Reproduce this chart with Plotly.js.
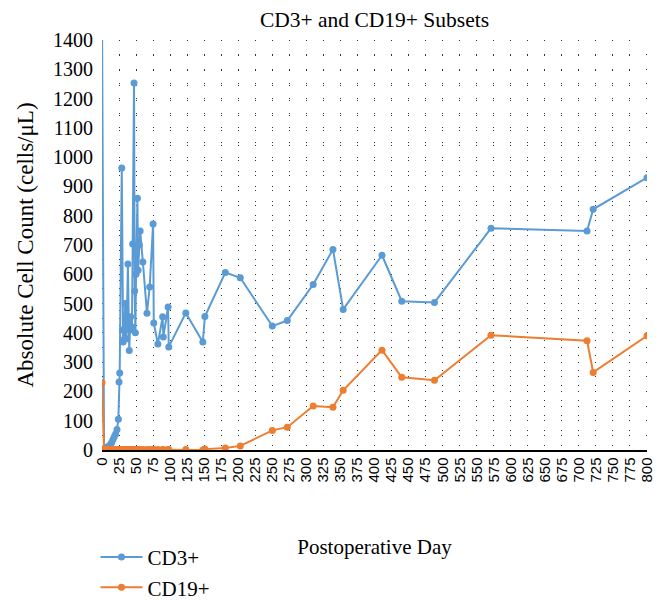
<!DOCTYPE html>
<html>
<head>
<meta charset="utf-8">
<script src="https://cdn.plot.ly/plotly-3.0.1.min.js"></script>
<style>html,body{margin:0;padding:0;background:#fff;}#chart{width:666px;height:604px;}</style>
</head>
<body>
<div id="chart"></div>
<script>
const days = [0,3,6,9,12,14,16,18,20,22,24,25,26,29,30,31,33,34,35,36,38,40,41,42,44,45,47,48,49,50,52,53,55,56,60,66,70,75,76,82,89,90,97,98,123,148,151,181,203,250,272,310,339,354,411,440,488,571,712,721,800];
const cd3 = [1500,5,8,12,18,25,35,45,55,70,105,232,263,963,410,369,380,500,420,380,635,340,410,455,420,703,1253,543,400,600,860,614,700,748,642,467,557,772,434,362,455,386,488,352,468,369,456,606,588,423,442,565,685,480,665,508,504,757,748,822,930];
const cd19 = [230,2,2,2,2,2,2,2,2,2,2,2,2,2,2,2,2,2,2,2,2,2,2,2,2,2,2,2,2,2,2,2,2,2,2,2,2,2,2,2,2,2,2,2,2,0,3,7,14,67,78,150,146,204,341,248,238,392,373,265,390];
const xTicks = [];
for (let v = 0; v <= 800; v += 25) xTicks.push(v);

const serif = "Liberation Serif, Times New Roman, serif";

const traces = [
  {x: days, y: cd3, name: "CD3+", mode: "lines+markers", type: "scatter",
   line: {color: "#5B9BD5", width: 2}, marker: {color: "#5B9BD5", size: 7}},
  {x: days, y: cd19, name: "CD19+", mode: "lines+markers", type: "scatter",
   line: {color: "#ED7D31", width: 2}, marker: {color: "#ED7D31", size: 7}}
];

const layout = {
  width: 666, height: 604,
  margin: {l: 102, r: 19, t: 40, b: 154, autoexpand: false},
  paper_bgcolor: "#fff", plot_bgcolor: "#fff",
  title: {text: "CD3+ and CD19+ Subsets", font: {family: serif, size: 21.5, color: "#000"},
          x: 0.5, xref: "paper", y: 0.968, yref: "container", yanchor: "middle"},
  xaxis: {
    range: [0, 800], tickmode: "array", tickvals: xTicks, ticktext: xTicks.map(String),
    tickangle: -90, tickfont: {family: "Liberation Sans, Arial, sans-serif", size: 15, color: "#000"},
    showline: true, linecolor: "#000", linewidth: 1.5, zeroline: false, ticks: "",
    automargin: false,
    showgrid: true, gridcolor: "#333", griddash: "1px,14px", gridwidth: 1,
    title: {text: "Postoperative Day", font: {family: serif, size: 21, color: "#000"}, standoff: 58}
  },
  yaxis: {
    range: [0, 1400], dtick: 100, tick0: 0, showline: false, zeroline: false, ticks: "",
    automargin: false,
    tickfont: {family: serif, size: 20, color: "#000"}, ticklabelstandoff: 8,
    showgrid: true, gridcolor: "#333", griddash: "1px,16px", gridwidth: 1,
    minor: {dtick: 50, showgrid: true, gridcolor: "#333", griddash: "1px,16px", gridwidth: 1},
    title: {text: "Absolute Cell Count (cells/μL)", font: {family: serif, size: 23, color: "#000"}, standoff: 12}
  },
  showlegend: true,
  legend: {orientation: "v", x: -0.012, xanchor: "left", y: -0.212, yanchor: "top", itemwidth: 42,
           font: {family: serif, size: 21, color: "#000"}, bgcolor: "rgba(0,0,0,0)", tracegroupgap: 0}
};

Plotly.newPlot("chart", traces, layout, {displayModeBar: false, staticPlot: true});
</script>
</body>
</html>
